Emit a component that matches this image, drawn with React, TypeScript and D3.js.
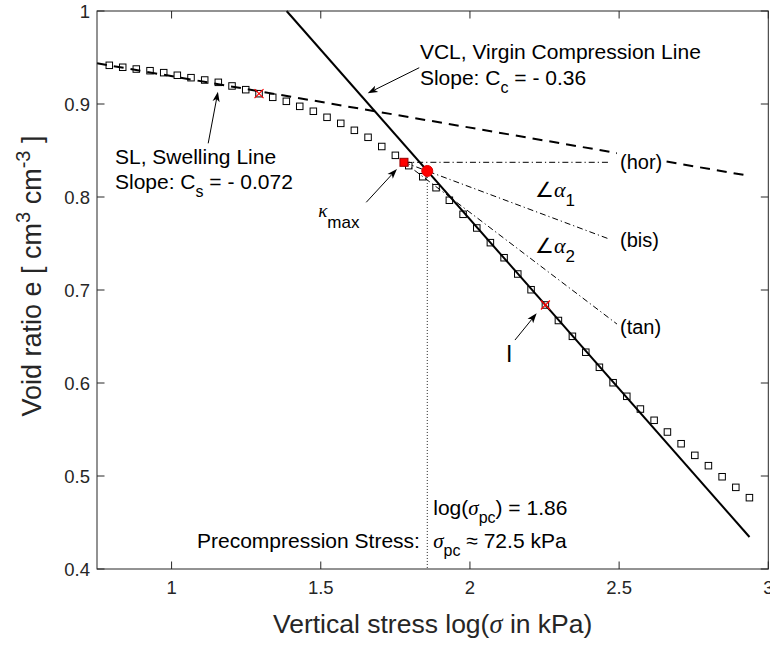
import React from "react";
import * as d3 from "d3";

// ---- data ----
const logStress = [
  0.7912, 0.8362, 0.8817, 0.9277, 0.9736, 1.0192, 1.0651, 1.111, 1.1566, 1.2026,
  1.2485, 1.2931, 1.339, 1.3846, 1.4295, 1.4751, 1.521, 1.567, 1.6126, 1.6585,
  1.7044, 1.75, 1.7949, 1.8419, 1.8864, 1.931, 1.977, 2.0229, 2.0685, 2.1144,
  2.1603, 2.2049, 2.2529, 2.2965, 2.3434, 2.3883, 2.4339, 2.4798, 2.5257, 2.5713,
  2.6173, 2.6619, 2.7078, 2.7537, 2.7993, 2.8452, 2.8911, 2.9367,
];
const voidRatio = [
  0.9416, 0.9395, 0.9376, 0.9358, 0.9337, 0.9309, 0.9283, 0.9258, 0.9233, 0.9194,
  0.9154, 0.9111, 0.9072, 0.9029, 0.8975, 0.8922, 0.8857, 0.8792, 0.8717, 0.8642,
  0.8543, 0.8448, 0.8337, 0.8218, 0.81, 0.7965, 0.7814, 0.7667, 0.7509, 0.7347,
  0.7172, 0.7003, 0.6839, 0.6672, 0.6502, 0.6331, 0.6169, 0.6003, 0.5857, 0.572,
  0.5599, 0.5473, 0.5347, 0.5222, 0.5111, 0.4992, 0.4878, 0.4767,
];
// red x-marked fitting points (swelling line point, inflection point I)
const markedX = [1.2931, 2.2529];
const markedE = [0.9111, 0.6839];
// swelling line (dashed)
const slX = [0.75, 2.9387];
const slE = [0.9438, 0.8226];
// virgin compression line (solid)
const vclX = [1.3855, 2.937];
const vclE = [1.0, 0.4344];
// point of maximum curvature and precompression point
const kMaxX = 1.7788;
const kMaxE = 0.8373;
const pcX = 1.857;
const pcE = 0.828;
// construction lines from kMax: hor, bis, tan end points
const constrNames = ["(hor)", "(bis)", "(tan)"];
const constrEndX = [2.4626, 2.4693, 2.4928];
const constrEndE = [0.8373, 0.7545, 0.6634];
const constrLabelE = [0.8301, 0.7462, 0.6527];

const xTicks = [1, 1.5, 2, 2.5, 3];
const yTicks = [0.4, 0.5, 0.6, 0.7, 0.8, 0.9, 1];
const xDomain = [0.75, 3];
const yDomain = [0.4, 1];

// ---- layout ----
const W = 770;
const H = 645;
const M = { left: 97, right: 768.3, top: 11, bottom: 569 };
const FONT = "'Liberation Sans', Arial, Helvetica, sans-serif";
const GREEK = "'Liberation Serif', 'DejaVu Serif', serif";
const AX = "#262626";

const x = d3.scaleLinear().domain(xDomain).range([M.left, M.right]);
const y = d3.scaleLinear().domain(yDomain).range([M.bottom, M.top]);

function Arrow({ x1, y1, x2, y2 }: { x1: number; y1: number; x2: number; y2: number }) {
  const X1 = x(x1), Y1 = y(y1), X2 = x(x2), Y2 = y(y2);
  const dx = X2 - X1, dy = Y2 - Y1;
  const len = Math.hypot(dx, dy);
  const ux = dx / len, uy = dy / len;
  const nx = -uy, ny = ux;
  const L = 10, Wd = 3.6;
  const bx = X2 - ux * L, by = Y2 - uy * L;
  const notchX = X2 - ux * L * 0.75, notchY = Y2 - uy * L * 0.75;
  const pts = [
    [X2, Y2],
    [bx + nx * Wd, by + ny * Wd],
    [notchX, notchY],
    [bx - nx * Wd, by - ny * Wd],
  ];
  return (
    <g>
      <line x1={X1} y1={Y1} x2={notchX} y2={notchY} stroke="#000" strokeWidth={1} />
      <polygon points={pts.map((p) => p.join(",")).join(" ")} fill="#000" />
    </g>
  );
}

export default function App() {
  const line = d3
    .line<[number, number]>()
    .x((d) => x(d[0]))
    .y((d) => y(d[1]));
  const sz = 6.5;
  return (
    <svg
      width={W}
      height={H}
      style={{ position: "fixed", left: 0, top: 0, background: "#fff" }}
      fontFamily={FONT}
    >
      <rect x={0} y={0} width={W} height={H} fill="#fff" />
      {/* swelling line */}
      <path
        d={line([[slX[0], slE[0]], [slX[1], slE[1]]]) || ""}
        stroke="#000"
        strokeWidth={2}
        strokeDasharray="10,7"
        fill="none"
      />
      {/* virgin compression line */}
      <path
        d={line([[vclX[0], vclE[0]], [vclX[1], vclE[1]]]) || ""}
        stroke="#000"
        strokeWidth={2}
        fill="none"
      />
      {/* construction lines */}
      {constrEndX.map((ex, i) => (
        <path
          key={"c" + i}
          d={line([[kMaxX, kMaxE], [ex, constrEndE[i]]]) || ""}
          stroke="#000"
          strokeWidth={1}
          strokeDasharray="6,3,1.2,3"
          fill="none"
        />
      ))}
      {/* vertical dotted line at precompression stress */}
      <line
        x1={x(pcX)}
        x2={x(pcX)}
        y1={y(pcE)}
        y2={y(yDomain[0])}
        stroke="#222"
        strokeWidth={1}
        strokeDasharray="1,2"
      />
      {/* data squares */}
      {logStress.map((lx, i) => (
        <rect
          key={"s" + i}
          x={x(lx) - sz / 2}
          y={y(voidRatio[i]) - sz / 2}
          width={sz}
          height={sz}
          fill="none"
          stroke="#000"
          strokeWidth={1}
        />
      ))}
      {/* red x markers */}
      {markedX.map((mx, i) => {
        const cx = x(mx), cy = y(markedE[i]);
        const r = 4.5;
        return (
          <g key={"m" + i} stroke="#f00" strokeWidth={1.2}>
            <line x1={cx - r} y1={cy - r} x2={cx + r} y2={cy + r} />
            <line x1={cx - r} y1={cy + r} x2={cx + r} y2={cy - r} />
          </g>
        );
      })}
      {/* kMax red square */}
      <rect
        x={x(kMaxX) - 4}
        y={y(kMaxE) - 4}
        width={8}
        height={8}
        fill="#f00"
        stroke="#900"
        strokeWidth={1}
      />
      {/* precompression red circle */}
      <circle cx={x(pcX)} cy={y(pcE)} r={5.5} fill="#f00" stroke="#d00" strokeWidth={1} />

      {/* axes box */}
      <rect
        x={M.left}
        y={M.top}
        width={M.right - M.left}
        height={M.bottom - M.top}
        fill="none"
        stroke={AX}
        strokeWidth={1}
      />
      {xTicks.map((t) => (
        <g key={"xt" + t}>
          <line x1={x(t)} x2={x(t)} y1={M.bottom} y2={M.bottom - 7.5} stroke={AX} />
          <line x1={x(t)} x2={x(t)} y1={M.top} y2={M.top + 7.5} stroke={AX} />
          <text x={x(t)} y={M.bottom + 25} textAnchor="middle" fontSize={18.5} fill={AX}>
            {t}
          </text>
        </g>
      ))}
      {yTicks.map((t) => (
        <g key={"yt" + t}>
          <line x1={M.left} x2={M.left + 7.5} y1={y(t)} y2={y(t)} stroke={AX} />
          <line x1={M.right} x2={M.right - 7.5} y1={y(t)} y2={y(t)} stroke={AX} />
          <text x={M.left - 7} y={y(t) + 6.6} textAnchor="end" fontSize={18.5} fill={AX}>
            {t}
          </text>
        </g>
      ))}

      {/* axis labels */}
      <text x={(M.left + M.right) / 2} y={633} textAnchor="middle" fontSize={26.5} fill={AX}>
        Vertical stress log(
        <tspan fontFamily={GREEK} fontStyle="italic">σ</tspan> in kPa)
      </text>
      <text
        transform={`translate(41,${(M.top + M.bottom) / 2 - 14}) rotate(-90)`}
        textAnchor="middle"
        fontSize={27}
        fill={AX}
      >
        Void ratio e [ cm
        <tspan dy={-11} fontSize={20}>3</tspan>
        <tspan dy={11}> cm</tspan>
        <tspan dy={-11} fontSize={20}>-3</tspan>
        <tspan dy={11}> ]</tspan>
      </text>

      {/* annotations */}
      <g fontSize={21} fill="#000">
        <text x={x(1.8323)} y={y(0.9484)}>VCL, Virgin Compression Line</text>
        <text x={x(1.8323)} y={y(0.9484) + 26}>
          Slope: C<tspan dy={8} fontSize={16}>c</tspan>
          <tspan dy={-8}> = - 0.36</tspan>
        </text>
        <text x={x(0.8103)} y={y(0.8352)}>SL, Swelling Line</text>
        <text x={x(0.8103)} y={y(0.8352) + 25}>
          Slope: C<tspan dy={8} fontSize={16}>s</tspan>
          <tspan dy={-8}> = - 0.072</tspan>
        </text>
        <text x={x(1.4914)} y={y(0.779)}>
          <tspan fontFamily={GREEK} fontStyle="italic" fontSize={19}>κ</tspan>
          <tspan dy={11} fontSize={17}>max</tspan>
        </text>
        <text x={x(2.2179)} y={y(0.8003)}>
          ∠<tspan fontFamily={GREEK} fontStyle="italic" fontSize={22}>α</tspan>
          <tspan dy={9} fontSize={17}>1</tspan>
        </text>
        <text x={x(2.2179)} y={y(0.7395)}>
          ∠<tspan fontFamily={GREEK} fontStyle="italic" fontSize={22}>α</tspan>
          <tspan dy={9} fontSize={17}>2</tspan>
        </text>
        {constrNames.map((n, i) => (
          <g key={n}>
            <rect
              x={x(2.5029) - 3}
              y={y(constrLabelE[i]) - 20}
              width={48}
              height={27}
              fill="#fff"
            />
            <text x={x(2.5029)} y={y(constrLabelE[i])} fontSize={20}>
              {n}
            </text>
          </g>
        ))}
        <text x={x(2.1207)} y={y(0.6229)} fontSize={23}>I</text>
        <text x={x(1.877)} y={y(0.458)}>
          log(<tspan fontFamily={GREEK} fontStyle="italic">σ</tspan>
          <tspan dy={8} fontSize={16}>pc</tspan>
          <tspan dy={-8}>) = 1.86</tspan>
        </text>
        <text x={x(1.8323)} y={y(0.4223)} textAnchor="end">
          Precompression Stress:
        </text>
        <text x={x(1.877)} y={y(0.4223)}>
          <tspan fontFamily={GREEK} fontStyle="italic">σ</tspan>
          <tspan dy={8} fontSize={16}>pc</tspan>
          <tspan dy={-8}> ≈ 72.5 kPa</tspan>
        </text>
      </g>

      <Arrow x1={1.83} y1={0.939} x2={1.6573} y2={0.9115} />
      <Arrow x1={1.1227} y1={0.8577} x2={1.1553} y2={0.9132} />
      <Arrow x1={1.6524} y1={0.7943} x2={1.7553} y2={0.8301} />
      <Arrow x1={2.1509} y1={0.6462} x2={2.2236} y2={0.6749} />
    </svg>
  );
}
